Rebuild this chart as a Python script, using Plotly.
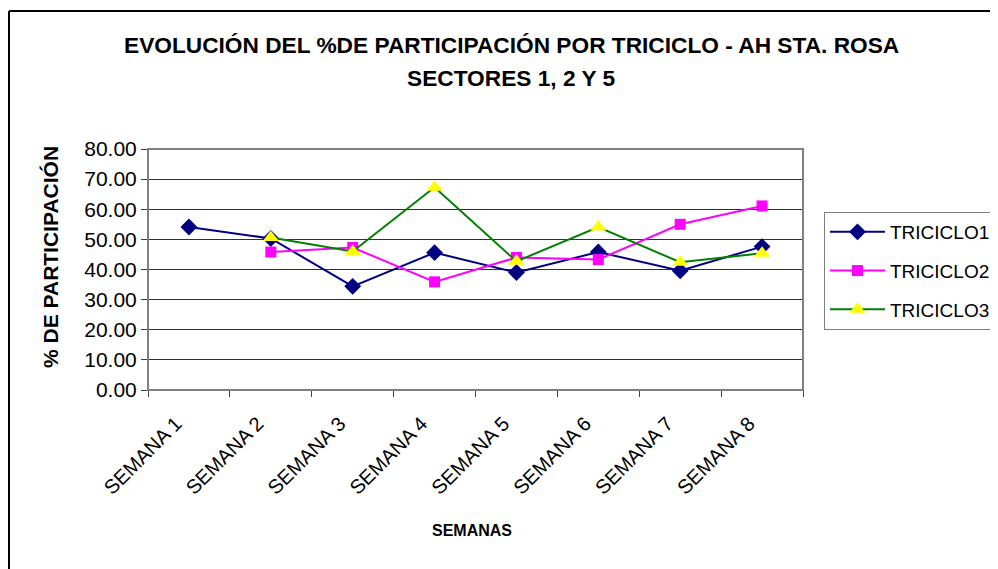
import plotly.graph_objects as go

semanas = ["SEMANA 1", "SEMANA 2", "SEMANA 3", "SEMANA 4", "SEMANA 5", "SEMANA 6", "SEMANA 7", "SEMANA 8"]
triciclo1 = [54.1, 50.3, 34.4, 45.6, 39.0, 45.8, 39.6, 47.6]
triciclo2 = [None, 45.8, 47.3, 35.9, 44.0, 43.3, 55.0, 61.1]
triciclo3 = [None, 50.6, 46.0, 67.3, 42.7, 54.1, 42.4, 45.4]
y_ticks = [0, 10, 20, 30, 40, 50, 60, 70, 80]

FONT = "Liberation Sans, Arial, sans-serif"

OFF = 8  # page body margin
W, H = 998 - OFF, 569 - OFF
L, T = 148 - OFF, 149 - OFF
B = H - (390 - OFF)
R = W - (803 - OFF)
pw, ph = W - L - R, H - T - B

def px_x(p):
    return ((p - OFF) - L) / pw

def px_y(p):
    return ((H - B) - (p - OFF)) / ph

fig = go.Figure()
fig.add_trace(go.Scatter(
    x=semanas, y=triciclo1, name="TRICICLO1", mode="lines+markers",
    line=dict(color="#000080", width=2),
    marker=dict(symbol="diamond", size=13, color="#000080"),
    legendgroup="a"))
fig.add_trace(go.Scatter(
    x=semanas, y=triciclo2, name="TRICICLO2", mode="lines+markers",
    line=dict(color="#FF00FF", width=2),
    marker=dict(symbol="square", size=11, color="#FF00FF"),
    legendgroup="b"))
fig.add_trace(go.Scatter(
    x=semanas, y=triciclo3, name="TRICICLO3", mode="lines+markers",
    line=dict(color="#008000", width=2),
    marker=dict(symbol="triangle-up", size=14, color="#FFFF00"),
    legendgroup="c"))

fig.update_layout(
    width=W, height=H,
    margin=dict(l=L, r=R, t=T, b=B, autoexpand=False),
    paper_bgcolor="white", plot_bgcolor="white",
    font=dict(family=FONT, color="black", size=18),
    showlegend=True,
    legend=dict(
        x=px_x(824), xanchor="left", y=px_y(212), yanchor="top",
        bordercolor="#808080", borderwidth=1, bgcolor="white",
        font=dict(family=FONT, size=19, color="black"),
        itemwidth=55,
        traceorder="grouped", tracegroupgap=11),
    xaxis=dict(
        type="category",
        tickson="boundaries", ticks="outside", ticklen=6, tickcolor="#404040",
        tickangle=-45, ticklabelshift=-13, ticklabelstandoff=13,
        tickfont=dict(family=FONT, size=20, color="black"),
        showgrid=False, showline=True, linecolor="#404040", linewidth=1,
        range=[-0.5, 7.5],
    ),
    yaxis=dict(
        range=[0, 80], tickvals=y_ticks, tickformat=".2f",
        ticks="outside", ticklen=6, tickcolor="#404040",
        tickfont=dict(family=FONT, size=21, color="black"),
        showgrid=True, gridcolor="#303030", gridwidth=1,
        showline=True, linecolor="#404040", linewidth=1,
        zeroline=False,
    ),
)

# titles as annotations for precise placement
fig.add_annotation(text="<b>EVOLUCIÓN DEL %DE PARTICIPACIÓN POR TRICICLO - AH STA. ROSA</b>",
                   xref="paper", yref="paper", x=px_x(511), y=px_y(45),
                   xanchor="center", yanchor="middle", showarrow=False,
                   font=dict(family=FONT, size=22.7, color="black"))
fig.add_annotation(text="<b>SECTORES 1, 2 Y 5</b>",
                   xref="paper", yref="paper", x=px_x(511), y=px_y(78),
                   xanchor="center", yanchor="middle", showarrow=False,
                   font=dict(family=FONT, size=22.7, color="black"))
fig.add_annotation(text="<b>SEMANAS</b>",
                   xref="paper", yref="paper", x=px_x(472), y=px_y(530),
                   xanchor="center", yanchor="middle", showarrow=False,
                   font=dict(family=FONT, size=16, color="black"))
fig.add_annotation(text="<b>% DE PARTICIPACIÓN</b>", textangle=-90,
                   xref="paper", yref="paper", x=px_x(50), y=px_y(370),
                   xanchor="center", yanchor="bottom", showarrow=False,
                   font=dict(family=FONT, size=21, color="black"))

# plot-area border (gray) like Excel
fig.add_shape(type="rect", xref="paper", yref="paper", x0=0, y0=0, x1=1, y1=1,
              line=dict(color="#808080", width=2), fillcolor="rgba(0,0,0,0)", layer="above")
# outer chart border (black), left/top edges visible
fig.add_shape(type="line", xref="paper", yref="paper",
              x0=px_x(9), y0=px_y(11), x1=px_x(1010), y1=px_y(11),
              line=dict(color="black", width=2))
fig.add_shape(type="line", xref="paper", yref="paper",
              x0=px_x(9), y0=px_y(11), x1=px_x(9), y1=px_y(580),
              line=dict(color="black", width=2))

fig.write_html("out.html")
